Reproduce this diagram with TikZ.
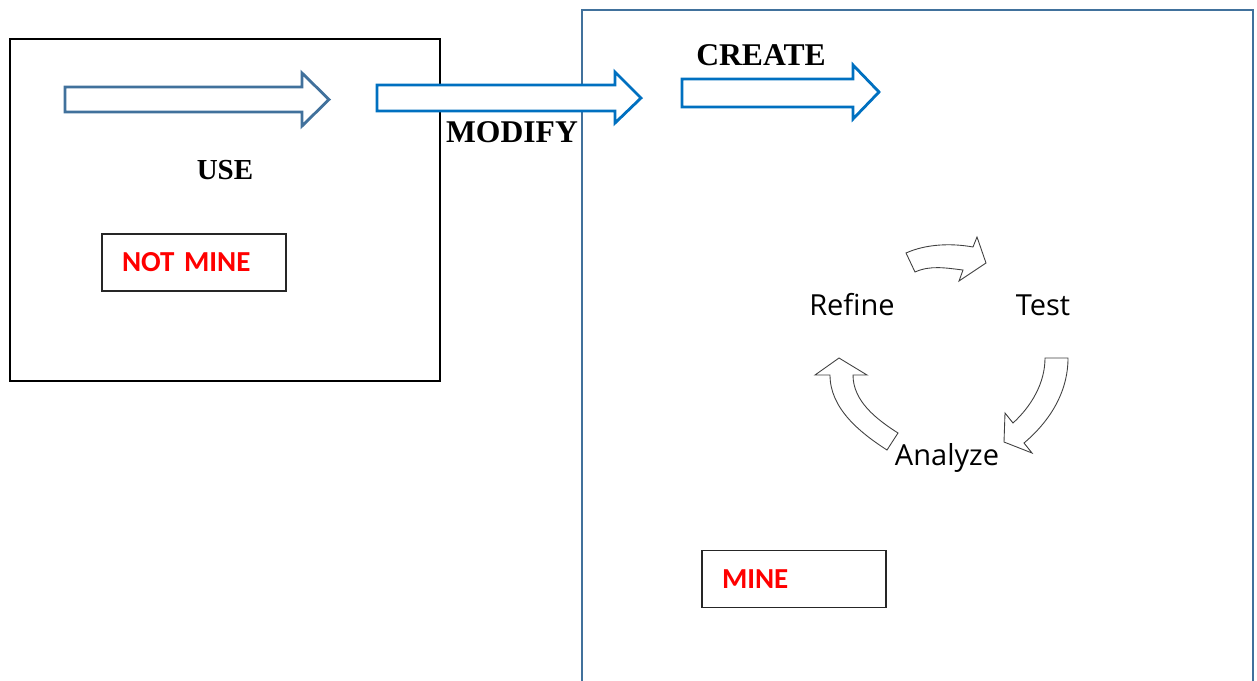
\documentclass[tikz,border=0pt]{standalone}
\usepackage{fontspec}
\usepackage{tikz}
\newfontfamily\titlefont{Liberation Serif}
\newfontfamily\tagfont{Carlito}
\newfontfamily\cyclefont{Open Sans}
\definecolor{steel}{HTML}{41719C}
\definecolor{bright}{HTML}{0070C0}
\definecolor{edge}{HTML}{404040}
\tikzstyle{stage label}=[font=\titlefont\bfseries\fontsize{18}{20}\selectfont,inner sep=0pt]
\tikzstyle{owner box}=[draw=black!85,line width=0.8pt,minimum height=1.14cm,text width=2.88cm,inner xsep=0.4cm,align=left,font=\tagfont\bfseries\fontsize{16.5}{20}\selectfont,text=red]
\tikzstyle{cycle label}=[font=\cyclefont\fontsize{16.5}{19}\selectfont,inner sep=0pt]
\tikzstyle{block arrow}=[line width=1.6pt,fill=white,line join=miter]
\tikzstyle{turn arrow}=[draw=edge,line width=0.5pt,fill=white]

\begin{document}
\begin{tikzpicture}[x=0.02cm,y=-0.02cm]
\useasboundingbox (0,0) rectangle (1257,680);
% frames
\draw[line width=1.4pt] (10,39) rectangle (440,381);
\draw[steel,line width=1.1pt] (582,690) -- (582,10) -- (1253,10) -- (1253,690);
% block arrows
\draw[block arrow,draw=steel] (65,87) -- (302,87) -- (302,73) -- (329,99.5) -- (302,126) -- (302,112) -- (65,112) -- cycle;
\draw[block arrow,draw=bright] (377,85) -- (615,85) -- (615,72) -- (641,98) -- (615,123) -- (615,111) -- (377,111) -- cycle;
\draw[block arrow,draw=bright] (682,79) -- (853,79) -- (853,65) -- (879,92) -- (853,119) -- (853,107) -- (682,107) -- cycle;
% stage names
\node[stage label] (create) at (761,55) {CREATE};
\node[stage label] (modify) at (512,132) {MODIFY};
\node[stage label,font=\titlefont\bfseries\fontsize{16.5}{20}\selectfont] (use) at (225,170) {USE};
% ownership
\node[owner box] (notmine) at (194,262.5) {NOT MINE};
\node[owner box] (mine) at (794,579) {MINE};
% cycle
\node[cycle label] (refine) at (852,305) {Refine};
\node[cycle label] (test) at (1043,305) {Test};
\node[cycle label] (analyze) at (947,458) {Analyze};
\draw[turn arrow] (906,253) .. controls (926,244) and (951,243) .. (973,247) -- (977,237) -- (986,263) -- (959,281) -- (963,270) .. controls (946,268) and (930.5,265) .. (915,272) -- cycle;
\draw[turn arrow] (1045,358) -- (1068,358) .. controls (1068,392) and (1050,421) .. (1024,443) -- (1032,453) -- (1004,442) -- (1005,413) -- (1013,423) .. controls (1031.5,406) and (1045,383) .. (1045,358) -- cycle;
\draw[turn arrow] (887,450) .. controls (859,432) and (830,408) .. (830,375) -- (815,375) -- (839,358) -- (867,375) -- (853,375) .. controls (853,401) and (876,419) .. (898,433) -- cycle;
\end{tikzpicture}
\end{document}
